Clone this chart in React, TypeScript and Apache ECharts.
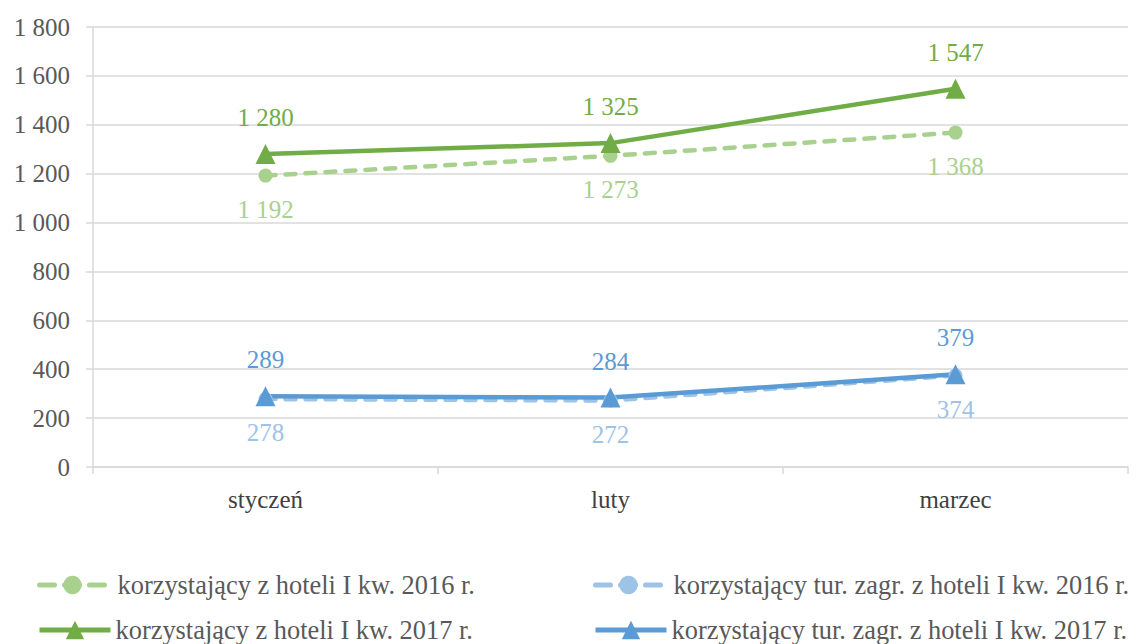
import React, { useEffect, useRef } from "react";
import * as echarts from "echarts";

const categories = ["styczeń", "luty", "marzec"];
const hotel2016 = [1192, 1273, 1368];
const hotel2017 = [1280, 1325, 1547];
const foreign2016 = [278, 272, 374];
const foreign2017 = [289, 284, 379];
const yTicks = { min: 0, max: 1800, interval: 200 };

const names = [
  "korzystający z hoteli I kw. 2016 r.",
  "korzystający z hoteli I kw. 2017 r.",
  "korzystający tur. zagr. z hoteli I kw. 2016 r.",
  "korzystający tur. zagr. z hoteli I kw. 2017 r.",
];

const FONT = "Liberation Serif";
const FS = 25;
const LFS = 26.4;
const fmt = (v: number) => String(v).replace(/\B(?=(\d{3})+(?!\d))/g, " ");
const DASH = [10, 10];

export default function App() {
  const ref = useRef<HTMLDivElement>(null);
  useEffect(() => {
    if (!ref.current) return;
    const chart = echarts.init(ref.current, undefined, { renderer: "svg" });
    const mk = (
      name: string,
      data: number[],
      color: string,
      dashed: boolean,
      above: boolean
    ) => ({
      name,
      type: "line",
      data,
      symbol: dashed ? "circle" : "triangle",
      symbolSize: dashed ? 14 : 20,
      itemStyle: { color },
      lineStyle: {
        color,
        width: 4.5,
        type: dashed ? DASH : "solid",
        cap: "round",
      },
      label: {
        show: true,
        position: above ? "top" : "bottom",
        distance: above ? 14 : 14,
        color,
        fontFamily: FONT,
        fontSize: FS,
        formatter: (p: any) => fmt(p.value),
      },
    });
    const legendBase = (dashed: boolean) => ({
      orient: "horizontal",
      padding: 0,
      itemWidth: dashed ? 66 : 71,
      itemHeight: 23,
      lineStyle: { width: 5, type: dashed ? [15, 10] : "solid", cap: dashed ? "round" : "butt" },
      textStyle: {
        fontFamily: FONT,
        fontSize: LFS,
        lineHeight: 26,
        color: "#595959",
        padding: dashed ? [0, 0, 0, 7] : [0, 0, 0, 0],
      },
    });
    chart.setOption({
      animation: false,
      backgroundColor: "#ffffff",
      grid: { left: 93, right: 8, top: 27, bottom: 177 },
      legend: [
        { ...legendBase(true), data: [names[0]], left: 37, top: 572 },
        { ...legendBase(false), data: [names[1]], left: 37, top: 617 },
        { ...legendBase(true), data: [names[2]], left: 593, top: 572 },
        { ...legendBase(false), data: [names[3]], left: 593, top: 617 },
      ],
      xAxis: {
        type: "category",
        data: categories,
        boundaryGap: true,
        axisLine: { show: true, lineStyle: { color: "#d9d9d9", width: 1.5 } },
        axisTick: { show: true, length: 7, lineStyle: { color: "#d9d9d9", width: 1.5 } },
        axisLabel: { margin: 20, fontFamily: FONT, fontSize: FS, color: "#404040" },
        splitLine: { show: false },
      },
      yAxis: {
        type: "value",
        min: yTicks.min,
        max: yTicks.max,
        interval: yTicks.interval,
        axisLine: { show: true, lineStyle: { color: "#d9d9d9", width: 1.5 } },
        axisTick: { show: true, length: 7, lineStyle: { color: "#d9d9d9", width: 1.5 } },
        axisLabel: {
          margin: 23,
          fontFamily: FONT,
          fontSize: FS,
          color: "#595959",
          formatter: (v: number) => fmt(v),
        },
        splitLine: { show: true, lineStyle: { color: "#d9d9d9", width: 1.5 } },
      },
      series: [
        mk(names[0], hotel2016, "#a9d18e", true, false),
        mk(names[2], foreign2016, "#9dc3e6", true, false),
        mk(names[1], hotel2017, "#70ad47", false, true),
        mk(names[3], foreign2017, "#5b9bd5", false, true),
      ],
    });
    return () => chart.dispose();
  }, []);
  return <div ref={ref} style={{ width: 1136, height: 644, position: "absolute", left: 0, top: 0 }} />;
}
